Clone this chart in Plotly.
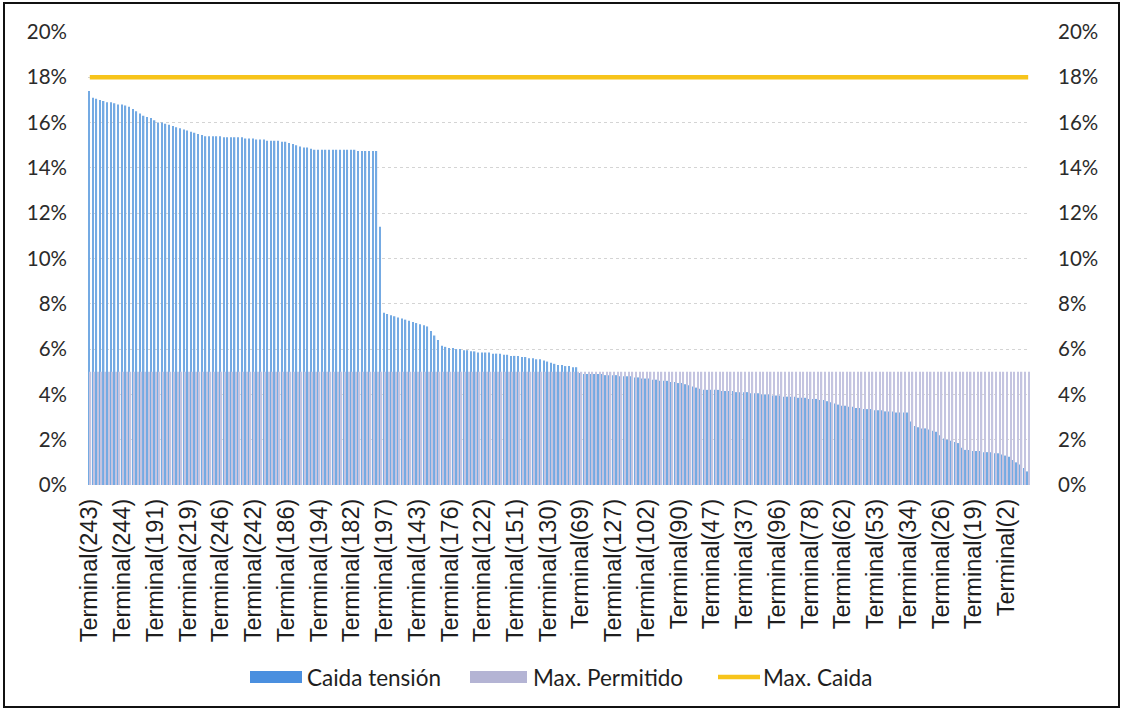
import plotly.graph_objects as go

# Voltage drop per terminal (%), sorted from highest to lowest
caida_tension = [
    17.4, 17.1, 17.05, 17.0,
    16.95, 16.9, 16.9, 16.85, 16.8, 16.8, 16.75, 16.7, 16.6,
    16.5, 16.4, 16.3, 16.25, 16.2,
    16.1, 16.0, 16.0, 15.95, 15.9, 15.85, 15.8, 15.75,
    15.7, 15.65, 15.6, 15.55, 15.5, 15.45,
    15.4, 15.4, 15.4, 15.4, 15.4, 15.35, 15.35, 15.35, 15.35, 15.35, 15.35, 15.3, 15.3,
    15.3, 15.25, 15.25, 15.25, 15.2, 15.2, 15.2, 15.2, 15.15, 15.15, 15.1,
    15.05, 15.0, 14.95, 14.9, 14.9, 14.85,
    14.8, 14.8, 14.8, 14.8, 14.8, 14.8, 14.8, 14.8, 14.8,
    14.8, 14.8, 14.8, 14.75, 14.75, 14.75, 14.75, 14.75, 14.75,
    11.4,
    7.6, 7.55, 7.5, 7.45,
    7.4, 7.35, 7.3, 7.25, 7.2, 7.15, 7.1, 7.05, 7.0,
    6.8, 6.6, 6.4,
    6.15, 6.1, 6.05, 6.05, 6.0, 6.0, 5.95, 5.95, 5.9,
    5.9, 5.85, 5.85, 5.85, 5.85, 5.8, 5.8, 5.8, 5.75,
    5.75, 5.7, 5.7, 5.7, 5.65, 5.65, 5.6, 5.6, 5.55, 5.55,
    5.5, 5.45, 5.4, 5.35, 5.3, 5.3, 5.25, 5.25, 5.2, 5.2,
    4.95, 4.9, 4.9, 4.9, 4.9, 4.9, 4.9, 4.85, 4.85, 4.85, 4.85, 4.8,
    4.8, 4.8, 4.8, 4.75, 4.75, 4.7, 4.7, 4.7, 4.65, 4.65, 4.6,
    4.6, 4.6, 4.55, 4.55, 4.5, 4.5, 4.45, 4.4, 4.35, 4.3, 4.25,
    4.2, 4.2, 4.2, 4.2, 4.2, 4.15, 4.15, 4.15, 4.15, 4.1, 4.1, 4.1, 4.1, 4.05, 4.05, 4.05, 4.0,
    4.0, 4.0, 3.95, 3.95, 3.95, 3.9, 3.9, 3.9, 3.9, 3.85, 3.85,
    3.85, 3.8, 3.8, 3.8, 3.75, 3.75, 3.7, 3.65, 3.6,
    3.55, 3.5, 3.5, 3.45, 3.45, 3.4,
    3.4, 3.35, 3.35, 3.35, 3.3, 3.3, 3.3, 3.25, 3.25, 3.25, 3.2, 3.2, 3.2, 3.2,
    2.8, 2.6, 2.55, 2.5, 2.5, 2.45, 2.4, 2.35,
    2.2, 2.05, 2.0, 1.95, 1.9, 1.85,
    1.65, 1.55, 1.55, 1.5, 1.5, 1.5, 1.45, 1.45, 1.45, 1.4, 1.4, 1.35,
    1.3, 1.25, 1.1, 1.0, 0.9, 0.75, 0.6,
]

# Limits (%)
max_permitido_valor = 5.0
max_caida_valor = 18.0

# Terminal names shown on the category axis (every 9th terminal)
terminal_labels = [
    "Terminal(243)", "Terminal(244)", "Terminal(191)", "Terminal(219)",
    "Terminal(246)", "Terminal(242)", "Terminal(186)", "Terminal(194)",
    "Terminal(182)", "Terminal(197)", "Terminal(143)", "Terminal(176)",
    "Terminal(122)", "Terminal(151)", "Terminal(130)", "Terminal(69)",
    "Terminal(127)", "Terminal(102)", "Terminal(90)", "Terminal(47)",
    "Terminal(37)", "Terminal(96)", "Terminal(78)", "Terminal(62)",
    "Terminal(53)", "Terminal(34)", "Terminal(26)", "Terminal(19)",
    "Terminal(2)",
]
label_step = 9

n = len(caida_tension)
x_pos = list(range(n))
max_permitido = [max_permitido_valor] * n
max_caida = [max_caida_valor] * n

BLUE = "#74aae3"
LAVENDER = "#c4c4e0"
GOLD = "#f7c41b"

fig = go.Figure()
fig.add_trace(go.Bar(x=x_pos, y=caida_tension, name="Caida tensión",
                     marker=dict(color=BLUE, line=dict(width=0)), showlegend=False))
fig.add_trace(go.Bar(x=x_pos, y=max_permitido, name="Max. Permitido",
                     marker=dict(color=LAVENDER, line=dict(width=0)), showlegend=False))
fig.add_trace(go.Scatter(x=x_pos, y=max_caida, name="Max. Caida", mode="lines",
                         line=dict(color=GOLD, width=4.5), yaxis="y2", showlegend=False))

W, H = 1125, 712
L, R, T, B = 88, 95, 32, 227
pw, ph = W - L - R, H - T - B

def px(xp):
    return (xp - L) / pw

def py(yp):
    return (H - B - yp) / ph

tick_font = dict(family="Lato, Carlito, sans-serif", size=20.5, color="#2b2b2b")

fig.update_layout(
    width=W, height=H,
    margin=dict(l=L, r=R, t=T, b=B),
    paper_bgcolor="white", plot_bgcolor="white",
    barmode="group", bargap=0.24, bargroupgap=0.0,
    xaxis=dict(
        range=[-0.5, n - 0.5],
        tickmode="array",
        tickvals=x_pos[::label_step][:len(terminal_labels)],
        ticktext=terminal_labels,
        tickangle=-90,
        tickfont=dict(family="Liberation Sans, Arial, sans-serif", size=23.5, color="#1e1e1e"),
        ticks="", ticklabelstandoff=8,
        showgrid=False, zeroline=False, showline=False,
    ),
    yaxis=dict(
        range=[0, 20], dtick=2, ticksuffix="%",
        tickfont=tick_font,
        showgrid=True, gridcolor="#d4d4d4", griddash="dot", gridwidth=1,
        zeroline=False, showline=False, ticks="", ticklabelstandoff=20,
    ),
    yaxis2=dict(
        range=[0, 20], dtick=2, ticksuffix="%",
        tickfont=tick_font, overlaying="y", side="right",
        showgrid=False, zeroline=False, showline=False, ticks="", ticklabelstandoff=27,
    ),
)

# Outer frame around the chart
fig.add_shape(type="rect", xref="paper", yref="paper",
              x0=px(4), x1=px(1119), y0=py(707), y1=py(3),
              line=dict(color="#111111", width=2), fillcolor="rgba(0,0,0,0)")

# Legend row
leg_y = 677
legend_font = dict(family="Lato, Carlito, sans-serif", size=22.5, color="#1e1e1e")
fig.add_shape(type="rect", xref="paper", yref="paper",
              x0=px(250), x1=px(302), y0=py(683), y1=py(671),
              line=dict(width=0), fillcolor="#4a8fdf")
fig.add_annotation(xref="paper", yref="paper", x=px(305), y=py(leg_y),
                   text="Caida tensión", showarrow=False, xanchor="left",
                   yanchor="middle", font=legend_font)
fig.add_shape(type="rect", xref="paper", yref="paper",
              x0=px(470), x1=px(527), y0=py(683), y1=py(671),
              line=dict(width=0), fillcolor="#b4b4d4")
fig.add_annotation(xref="paper", yref="paper", x=px(531), y=py(leg_y),
                   text="Max. Permitido", showarrow=False, xanchor="left",
                   yanchor="middle", font=legend_font)
fig.add_shape(type="line", xref="paper", yref="paper",
              x0=px(718), x1=px(760), y0=py(leg_y), y1=py(leg_y),
              line=dict(color=GOLD, width=4.5))
fig.add_annotation(xref="paper", yref="paper", x=px(761), y=py(leg_y),
                   text="Max. Caida", showarrow=False, xanchor="left",
                   yanchor="middle", font=legend_font)

fig.write_html("out.html")
